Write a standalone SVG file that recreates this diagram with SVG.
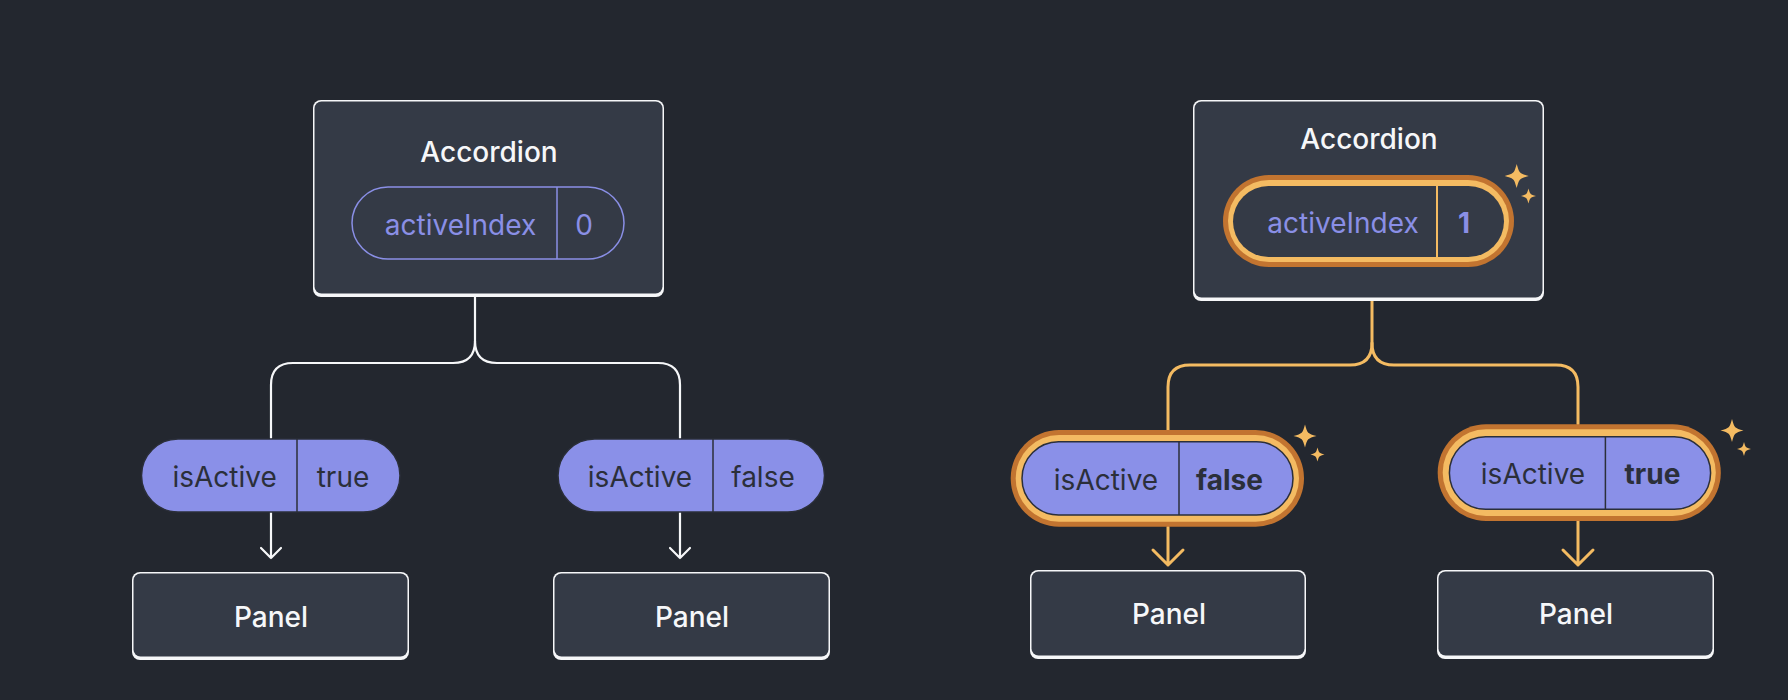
<svg xmlns="http://www.w3.org/2000/svg" xmlns:xlink="http://www.w3.org/1999/xlink" width="1788" height="700" viewBox="0 0 1788 700">
<defs>
<style>
text{font-family:Inter,"Noto Sans","Liberation Sans",sans-serif;text-anchor:middle}
.title{font-size:28px;font-weight:500;fill:#f6f7f9}
.prop{font-size:28px;fill:#8a8fe6}
.pdark{font-size:28px;fill:#2b2f3a}
.bold{font-weight:700}
.wline{fill:none;stroke:#f6f7f9;stroke-width:2.2;stroke-linecap:round;stroke-linejoin:round}
.oline{fill:none;stroke:#f4bb62;stroke-width:3;stroke-linecap:round;stroke-linejoin:round}
.boxfill{fill:#343a46}
.border{fill:#f6f7f9}
.ring1{fill:#c27430}
.ring2{fill:#f4bb62}
.lav{fill:#8a90e8;stroke:#2b2f3a;stroke-width:1.5}
.spark{fill:#f4bb62}
</style>
<path id="spark" d="M0,-1 C0.22,-0.22 0.22,-0.22 1,0 C0.22,0.22 0.22,0.22 0,1 C-0.22,0.22 -0.22,0.22 -1,0 C-0.22,-0.22 -0.22,-0.22 0,-1Z"/>
</defs>
<rect width="1788" height="700" fill="#23272f"/>

<g id="connectors">
<path class="wline" d="M475,297 V341 Q475,363 453,363 H293 Q271,363 271,385 V438"/>
<path class="wline" d="M475,341 Q475,363 497,363 H658 Q680,363 680,385 V438"/>
<path class="wline" d="M271,512 V558 M261,548 L271,558 L281,548"/>
<path class="wline" d="M680,512 V558 M670,548 L680,558 L690,548"/>
<path class="oline" d="M1372,301 V343 Q1372,365 1350,365 H1190 Q1168,365 1168,387 V430"/>
<path class="oline" d="M1372,343 Q1372,365 1394,365 H1556 Q1578,365 1578,387 V424"/>
<path class="oline" d="M1168,527 V565 M1153,550 L1168,565 L1183,550"/>
<path class="oline" d="M1578,521 V565 M1563,550 L1578,565 L1593,550"/>
</g>

<g id="accordion-left">
<rect class="border" x="313" y="100" width="351" height="197" rx="8"/>
<rect class="boxfill" x="314.5" y="101.5" width="348" height="192" rx="7"/>
<text class="title" x="489" y="162">Accordion</text>
<rect x="352" y="187" width="272" height="72" rx="36" fill="none" stroke="#8a8fe6" stroke-width="1.5"/>
<line x1="557" y1="187" x2="557" y2="259" stroke="#8a8fe6" stroke-width="1.5"/>
<text class="prop" x="460.5" y="235">activeIndex</text>
<text class="prop" x="584" y="235">0</text>
</g>

<g id="prop-left-1">
<rect class="lav" x="141.5" y="439" width="258.5" height="73" rx="36.5"/>
<line x1="297" y1="439" x2="297" y2="512" stroke="#2b2f3a" stroke-width="1.5"/>
<text class="pdark" x="224.6" y="487">isActive</text>
<text class="pdark" x="343" y="487">true</text>
</g>

<g id="prop-left-2">
<rect class="lav" x="558" y="439" width="266.5" height="73" rx="36.5"/>
<line x1="713" y1="439" x2="713" y2="512" stroke="#2b2f3a" stroke-width="1.5"/>
<text class="pdark" x="640" y="487">isActive</text>
<text class="pdark" x="763" y="487">false</text>
</g>

<g id="panel-left-1">
<rect class="border" x="132" y="572" width="277" height="88" rx="8"/>
<rect class="boxfill" x="133.5" y="573.5" width="274" height="83" rx="7"/>
<text class="title" x="271" y="627">Panel</text>
</g>

<g id="panel-left-2">
<rect class="border" x="553" y="572" width="277" height="88" rx="8"/>
<rect class="boxfill" x="554.5" y="573.5" width="274" height="83" rx="7"/>
<text class="title" x="692" y="627">Panel</text>
</g>

<g id="accordion-right">
<rect class="border" x="1193" y="100" width="351" height="201" rx="8"/>
<rect class="boxfill" x="1194.5" y="101.5" width="348" height="196" rx="7"/>
<text class="title" x="1369" y="149">Accordion</text>
<rect class="ring1" x="1223" y="175" width="291" height="92" rx="46"/>
<rect class="ring2" x="1228" y="180" width="281" height="82" rx="41"/>
<rect class="boxfill" x="1233" y="186" width="271" height="71" rx="35.5"/>
<line x1="1437" y1="186" x2="1437" y2="257" stroke="#f4bb62" stroke-width="2"/>
<text class="prop" x="1343" y="233">activeIndex</text>
<text class="prop bold" x="1464" y="233">1</text>
<use xlink:href="#spark" class="spark" transform="translate(1516.7,176) scale(12)"/>
<use xlink:href="#spark" class="spark" transform="translate(1528.5,196) scale(7.5)"/>
</g>

<g id="prop-right-1">
<rect class="ring1" x="1010.7" y="430" width="293.3" height="96.7" rx="48.3"/>
<rect class="ring2" x="1015.7" y="435" width="283.3" height="86.7" rx="43.3"/>
<rect class="lav" x="1022" y="441.7" width="271" height="73.3" rx="36.6"/>
<line x1="1179" y1="441.7" x2="1179" y2="515" stroke="#2b2f3a" stroke-width="1.5"/>
<text class="pdark" x="1106" y="490">isActive</text>
<text class="pdark bold" x="1229.5" y="490">false</text>
<use xlink:href="#spark" class="spark" transform="translate(1305,436) scale(11.5)"/>
<use xlink:href="#spark" class="spark" transform="translate(1317.5,454.5) scale(7)"/>
</g>

<g id="prop-right-2">
<rect class="ring1" x="1437.7" y="424.3" width="283.1" height="96.7" rx="48.3"/>
<rect class="ring2" x="1442.7" y="429.3" width="273.1" height="86.7" rx="43.3"/>
<rect class="lav" x="1449.4" y="436.7" width="261.2" height="72.6" rx="36.3"/>
<line x1="1605.4" y1="436.7" x2="1605.4" y2="509.3" stroke="#2b2f3a" stroke-width="1.5"/>
<text class="pdark" x="1533" y="484">isActive</text>
<text class="pdark bold" x="1652.5" y="484">true</text>
<use xlink:href="#spark" class="spark" transform="translate(1732,430.5) scale(11.5)"/>
<use xlink:href="#spark" class="spark" transform="translate(1744,449) scale(7)"/>
</g>

<g id="panel-right-1">
<rect class="border" x="1030" y="570" width="276" height="89" rx="8"/>
<rect class="boxfill" x="1031.5" y="571.5" width="273" height="84" rx="7"/>
<text class="title" x="1169" y="624">Panel</text>
</g>

<g id="panel-right-2">
<rect class="border" x="1437" y="570" width="277" height="89" rx="8"/>
<rect class="boxfill" x="1438.5" y="571.5" width="274" height="84" rx="7"/>
<text class="title" x="1576" y="624">Panel</text>
</g>
</svg>
